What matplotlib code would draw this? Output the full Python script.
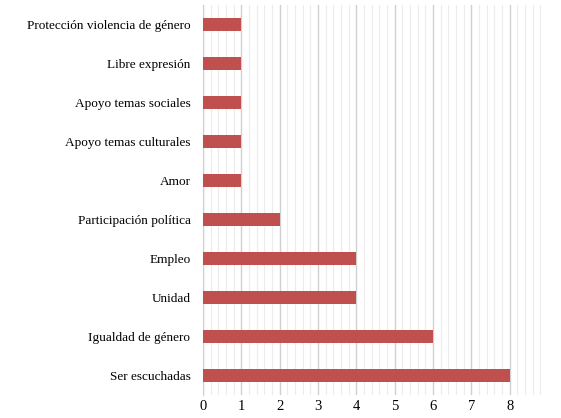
import matplotlib
matplotlib.use("Agg")
import matplotlib.pyplot as plt
import numpy as np

categories = ["Ser escuchadas", "Igualdad de género", "Unidad", "Empleo",
              "Participación política", "Amor", "Apoyo temas culturales",
              "Apoyo temas sociales", "Libre expresión", "Protección violencia de género"]
values = [8, 6, 4, 4, 2, 1, 1, 1, 1, 1]

plt.rcParams['font.family'] = ['Liberation Serif', 'DejaVu Serif']
fig = plt.figure(figsize=(5.61, 4.18), dpi=100)
ax = fig.add_axes([203/561, 1-395/418, (548-203)/561, 390/418])
y = np.arange(len(categories))
ax.barh(y, values, height=0.33, color='#c0504d', zorder=3)
ax.set_yticks(y)
ax.set_yticklabels(categories, fontsize=9.5)
ax.set_ylim(-0.5, len(categories)-0.5)
ax.set_xlim(0, 9)
ax.set_xticks(range(0, 9))
ax.set_xticks(np.arange(0, 9, 0.2), minor=True)
ax.tick_params(axis='x', which='both', length=0, labelsize=10.5)
ax.tick_params(axis='y', length=0, pad=9)
ax.grid(axis='x', which='major', color='#d0d0d0', lw=1, zorder=0)
ax.grid(axis='x', which='minor', color='#ececec', lw=0.8, zorder=0)
for s in ['top', 'right', 'bottom']:
    ax.spines[s].set_visible(False)
ax.spines['left'].set_color('#d0d0d0')
fig.savefig('out.png', dpi=100)
